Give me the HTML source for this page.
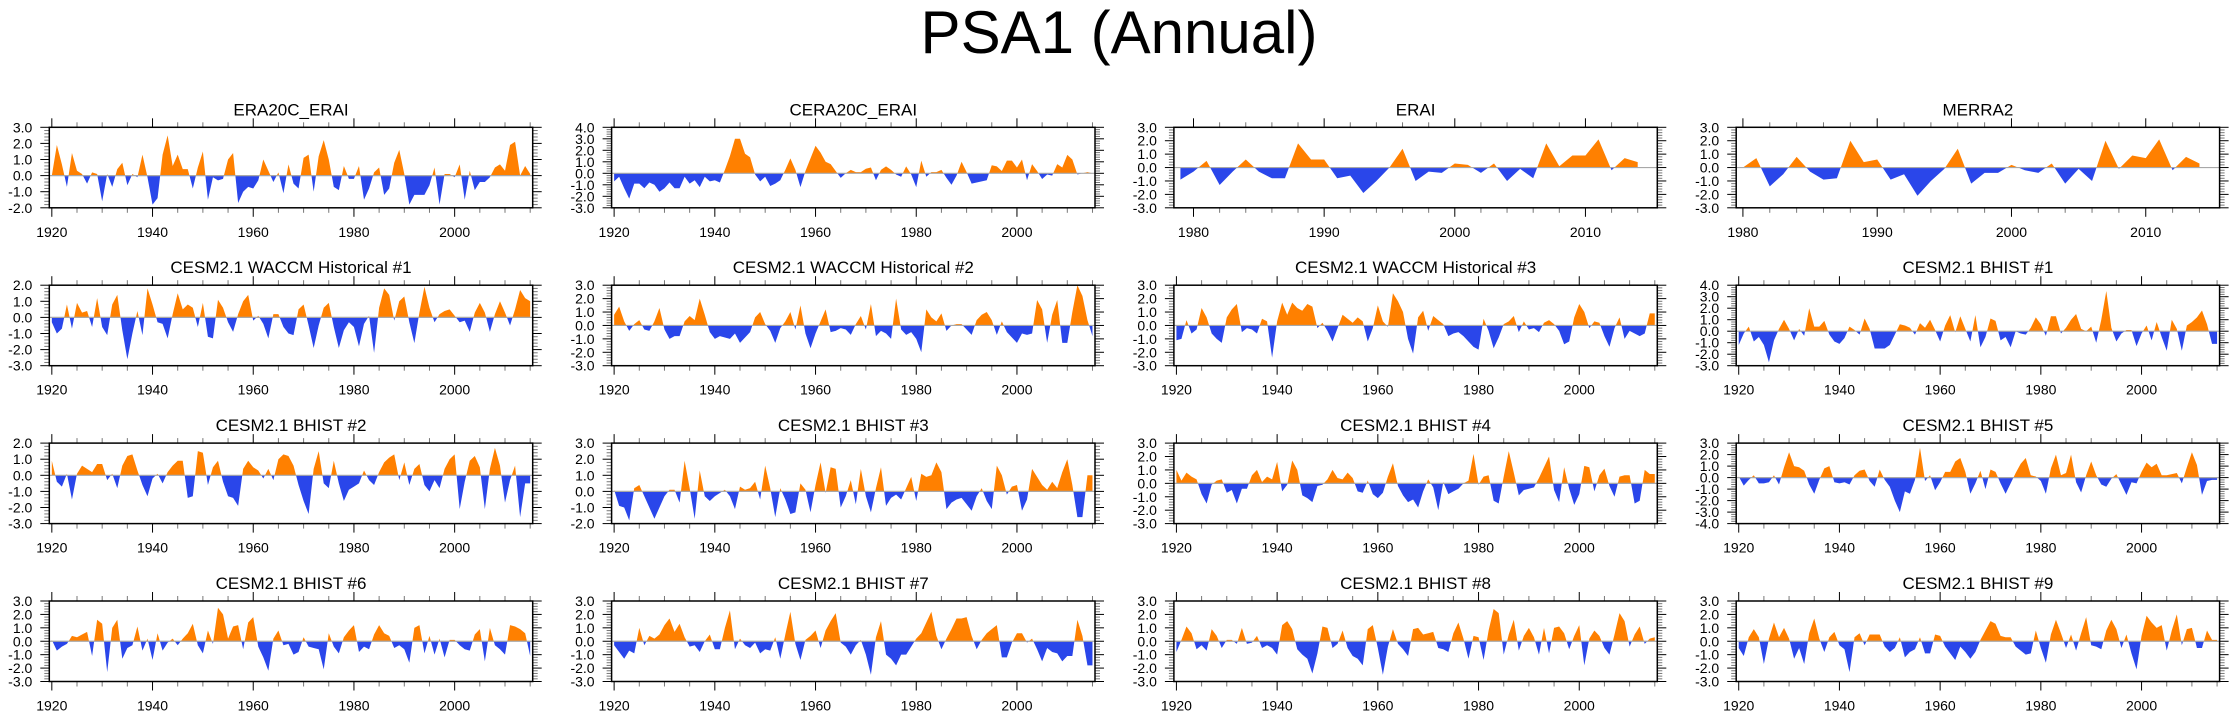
<!DOCTYPE html>
<html><head><meta charset="utf-8"><style>
html,body{margin:0;padding:0;background:#fff}
svg{display:block}
text{font-family:"Liberation Sans",sans-serif;fill:#000}
</style></head><body>
<svg id="chart" width="2238" height="719" viewBox="0 0 2238 719" xmlns="http://www.w3.org/2000/svg">
<text x="1119" y="53" font-size="60" text-anchor="middle">PSA1 (Annual)</text>
</svg>
<script>
const panelTitles = ["ERA20C_ERAI","CERA20C_ERAI","ERAI","MERRA2",
"CESM2.1 WACCM Historical #1","CESM2.1 WACCM Historical #2","CESM2.1 WACCM Historical #3","CESM2.1 BHIST #1",
"CESM2.1 BHIST #2","CESM2.1 BHIST #3","CESM2.1 BHIST #4","CESM2.1 BHIST #5",
"CESM2.1 BHIST #6","CESM2.1 BHIST #7","CESM2.1 BHIST #8","CESM2.1 BHIST #9"];
const startYears = [1920,1920,1979,1980,1920,1920,1920,1920,1920,1920,1920,1920,1920,1920,1920,1920];
const yMins = [-2,-3,-3,-3,-3,-3,-3,-3,-3,-2,-3,-4,-3,-3,-3,-3];
const yMaxs = [3,4,3,3,2,3,3,4,2,3,3,3,3,3,3,3];
const s1 = [0.0,1.9,0.7,-0.7,1.4,0.3,0.1,-0.5,0.2,0.1,-1.6,0.1,-0.7,0.4,0.8,-0.6,0.1,-0.1,1.3,-0.1,-1.8,-1.4,1.3,2.5,0.6,1.3,0.4,0.4,-0.8,0.5,1.5,-1.5,-0.1,-0.3,-0.2,1.0,1.4,-1.7,-1.0,-0.7,-0.8,-0.3,1.0,0.3,-0.4,0.2,-1.1,0.7,-0.5,-0.8,1.1,1.3,-1.0,1.2,2.2,1.0,-0.7,-0.9,0.6,-0.2,-0.2,0.6,-1.5,-0.8,0.2,0.5,-1.2,-0.8,0.8,1.6,0.1,-1.8,-1.2,-1.2,-1.2,-0.6,0.5,-1.8,0.1,0.1,-0.1,0.7,-1.5,0.3,-0.9,-0.4,-0.4,-0.1,0.5,0.7,0.3,1.9,2.1,0.0,0.6,0.1];
const s2 = [-0.7,-0.3,-1.3,-2.2,-0.9,-0.9,-1.3,-0.8,-1.0,-1.6,-1.3,-0.8,-1.3,-1.3,-0.3,-0.9,-0.6,-1.2,-0.3,-0.7,-0.6,-0.8,0.3,1.5,3.0,3.0,1.7,1.4,-0.1,-0.7,-0.3,-1.1,-0.9,-0.6,0.3,1.3,0.3,-1.2,0.2,1.3,2.4,1.8,1.0,0.8,0.2,-0.4,0.0,0.3,0.1,0.1,0.4,0.5,-0.6,0.3,0.6,0.3,-0.1,-0.3,0.6,-0.1,-1.2,1.1,-0.3,0.1,0.1,0.3,-0.4,-1.0,-0.2,1.0,0.1,-0.9,-0.8,-0.7,-0.6,0.7,0.6,0.2,1.1,1.1,0.5,1.2,-0.6,0.8,0.2,-0.5,-0.1,-0.2,0.8,0.5,1.6,1.2,-0.1,0.0,0.1,0.0];
const s3 = [-0.9,-0.3,0.5,-1.3,-0.3,0.6,-0.3,-0.8,-0.8,1.8,0.6,0.6,-0.8,-0.6,-1.9,-1.0,0.0,1.4,-1.0,-0.3,-0.4,0.3,0.2,-0.4,0.3,-1.0,-0.1,-0.8,1.8,0.1,0.9,0.9,2.1,-0.2,0.7,0.4];
const s4 = [0.0,0.7,-1.4,-0.5,0.8,-0.3,-0.9,-0.8,2.0,0.4,0.6,-0.9,-0.5,-2.1,-1.0,-0.1,1.4,-1.2,-0.4,-0.4,0.2,-0.2,-0.4,0.3,-1.2,-0.1,-1.0,2.0,-0.1,0.9,0.7,2.1,-0.2,0.8,0.3];
const s5 = [-0.3,-1.0,-0.7,0.8,-0.7,0.9,0.3,0.4,-0.6,1.2,-0.6,-1.1,0.8,1.4,-0.8,-2.6,-1.0,0.4,-1.1,1.8,0.8,-0.3,-0.4,-1.3,0.2,1.5,0.5,0.8,0.6,-0.6,0.9,-1.2,-1.3,1.1,0.6,-0.3,-0.9,0.2,1.0,1.4,-0.2,0.1,-0.4,-1.3,0.2,0.2,-0.6,-1.0,-1.1,0.5,0.8,-0.5,-1.9,-0.5,0.6,0.9,-0.6,-1.9,-0.8,-0.3,-0.6,-1.8,-0.4,0.1,-2.2,0.6,1.8,1.4,-0.2,1.0,1.3,-0.3,-1.6,0.3,1.9,0.6,-0.3,0.2,0.4,0.5,0.1,-0.3,-0.2,-0.9,0.3,0.9,0.3,-0.9,0.2,1.0,0.3,-0.5,0.5,1.7,1.2,1.0];
const s6 = [0.8,1.4,0.3,-0.4,0.1,0.4,-0.3,-0.4,0.3,1.3,-0.3,-1.0,-0.8,-0.8,0.3,0.7,0.4,2.0,0.8,-0.5,-1.0,-0.8,-0.9,-1.0,-0.6,-1.3,-0.9,-0.5,0.6,1.0,0.1,-0.4,-1.3,-0.2,0.3,1.0,-0.3,1.5,-0.6,-1.7,-0.6,0.3,1.2,-0.5,-0.4,-0.2,-0.3,-0.7,0.1,0.7,-0.3,1.6,-0.8,-0.4,-0.6,-1.0,2.0,-0.3,-0.7,-0.5,-1.0,-2.0,1.2,0.6,0.3,0.9,-0.4,0.0,0.1,0.1,-0.3,-0.7,0.4,0.8,1.0,0.4,-0.7,0.3,-0.5,-0.9,-1.3,-0.6,-0.7,-0.6,1.9,1.2,-1.3,0.8,1.9,-1.3,-1.3,1.0,3.0,2.2,0.4,-0.8];
const s7 = [-1.1,-1.0,0.4,-0.6,-0.3,1.3,0.6,-0.6,-1.0,-1.3,0.6,1.2,1.6,-0.5,-0.2,-0.3,-0.6,0.5,0.3,-2.4,0.3,1.7,0.8,1.7,1.3,1.1,1.6,1.4,-0.2,0.2,-0.4,-1.2,-0.2,0.8,0.5,0.2,0.6,0.3,-1.2,-0.2,1.5,0.3,-0.1,2.4,1.8,1.0,-1.0,-2.1,0.6,1.1,-0.4,0.7,0.4,0.1,-0.8,-0.6,-0.5,-0.8,-1.2,-1.6,-1.8,0.5,-0.4,-1.7,-0.9,0.1,0.3,0.7,-0.5,0.3,-0.3,-0.2,-0.5,0.2,0.4,0.1,-0.4,-1.4,-1.2,0.6,1.6,1.0,-0.2,0.3,0.2,-0.8,-1.6,-0.2,0.6,-1.0,-0.4,-0.6,-0.8,-0.6,0.9,0.9];
const s8 = [-1.2,-0.2,0.4,-0.9,-0.5,-1.2,-2.7,-0.8,0.2,1.0,0.2,-0.8,0.2,-0.4,2.0,0.4,0.4,0.9,-0.3,-0.9,-1.1,-0.6,0.4,0.1,-0.3,1.1,0.2,-1.5,-1.5,-1.5,-1.2,-0.3,0.6,0.5,0.3,-0.3,0.7,0.3,1.0,0.1,-0.9,0.5,1.4,-0.1,1.3,0.2,-0.9,1.4,-1.4,-0.5,1.1,0.9,-0.8,-0.5,-1.4,0.0,-0.2,-0.3,0.3,1.2,0.6,-0.4,1.3,1.3,-0.2,0.3,1.0,1.5,0.2,0.0,0.4,-1.0,1.0,3.5,0.3,-0.9,-0.2,0.1,0.1,-1.3,-0.2,0.5,-0.8,0.8,-0.5,-1.7,1.0,0.2,-1.7,0.5,0.8,1.2,1.8,0.6,-1.1,-1.1];
const s9 = [0.9,-0.4,-0.7,0.1,-1.5,0.1,0.6,0.4,0.2,0.7,0.7,-0.3,0.1,-0.8,0.6,1.2,1.3,0.3,-0.6,-1.3,-0.2,0.1,-0.5,0.2,0.6,0.9,0.9,-1.4,-1.3,1.5,1.4,-0.6,0.5,0.9,-0.4,-1.3,-1.4,-1.9,0.4,0.9,0.5,0.3,-0.2,0.4,-0.3,1.0,1.3,1.2,0.6,-0.6,-1.6,-2.4,0.4,1.5,-0.5,-0.8,0.9,-0.5,-1.6,-0.9,-0.7,-0.5,0.3,-0.3,-0.6,0.2,0.8,1.1,1.3,-0.3,0.8,-0.6,0.4,0.7,-0.6,-1.0,-0.3,-0.8,0.4,1.0,1.3,-2.1,-0.4,0.9,1.2,0.5,-2.1,0.4,1.7,0.6,-1.7,-0.3,0.6,-2.6,-0.5,-0.5];
const s10 = [0.1,-0.9,-1.0,-1.8,0.2,0.4,-0.3,-1.0,-1.7,-1.0,-0.3,0.1,0.1,-0.7,1.9,0.2,-1.7,1.3,-0.3,-0.6,-0.3,-0.1,0.1,-0.3,-1.1,0.3,0.1,0.2,0.6,-0.5,1.6,0.2,-1.6,0.2,-0.5,-1.4,-1.3,0.5,0.1,-1.3,0.4,1.8,-0.1,1.5,1.4,-1.0,-0.3,0.7,-0.8,1.4,-0.3,-1.3,0.2,1.5,-0.9,-0.4,-0.2,-0.5,0.2,0.9,-0.6,1.1,0.9,1.0,1.8,1.2,-1.1,-0.7,-0.5,-0.4,-0.8,-1.2,-0.3,0.2,-0.6,-1.1,1.6,1.0,-0.2,0.3,0.4,-1.2,-0.5,1.4,0.9,0.4,0.1,0.6,0.2,1.2,2.0,0.4,-1.6,-1.6,1.0,1.0];
const s11 = [1.0,0.2,0.8,0.5,0.3,-0.8,-1.5,-0.1,0.2,0.3,-0.7,-0.5,-1.5,-0.4,-0.4,0.6,1.0,0.1,0.5,0.3,1.6,-0.6,-0.1,1.7,1.0,-0.9,-1.1,-1.4,-0.2,-0.1,0.3,1.0,0.4,0.3,0.8,0.4,-0.6,-0.7,0.2,-0.8,-1.1,-0.7,0.5,1.5,-0.2,-0.9,-1.4,-1.2,-1.8,-0.6,0.3,-0.3,-2.0,0.1,-0.8,-0.6,-0.4,0.0,0.2,2.2,-0.1,0.5,0.6,-1.3,-1.5,0.5,2.4,0.8,-0.9,-0.5,-0.4,-0.3,0.4,1.2,2.0,-0.5,-1.4,1.2,-0.4,-1.6,-0.8,1.3,1.2,-0.6,0.6,1.1,-0.2,-1.0,0.5,0.6,0.6,-1.5,-1.3,1.0,0.7,0.7];
const s12 = [0.1,-0.7,-0.2,0.2,-0.5,-0.5,-0.4,0.2,-0.6,0.9,2.2,1.0,0.9,0.6,-0.6,-1.4,-0.2,0.8,1.0,-0.4,-0.5,-0.4,-0.6,0.2,0.6,0.7,-0.3,-0.8,0.7,-0.2,-0.8,-2.0,-3.0,-1.2,-1.4,-0.2,2.6,-0.3,0.2,-1.1,-0.4,0.5,0.5,1.4,1.7,0.5,-1.4,-0.5,0.6,-1.0,0.7,0.5,-0.5,-1.4,-0.5,0.4,1.2,1.7,0.2,0.1,-0.3,-1.4,0.8,2.0,0.2,0.4,2.0,-0.4,-1.3,0.2,1.4,0.2,-0.6,-0.8,-0.1,0.3,-0.6,-1.5,-0.4,-0.5,0.5,1.3,0.9,1.2,0.2,0.2,0.3,0.4,-0.5,0.9,2.2,1.1,-1.5,-0.3,-0.2,-0.2];
const s13 = [0.1,-0.7,-0.4,-0.2,0.4,0.3,0.5,0.7,-1.1,1.6,1.3,-2.3,1.0,1.6,-1.3,-0.5,-0.3,1.1,-0.7,0.2,-1.4,0.6,-0.7,-0.1,0.2,-0.3,0.2,0.6,1.3,-0.3,-0.9,0.8,-0.2,2.5,2.0,0.2,1.1,1.2,-0.6,1.4,1.8,-0.4,-1.2,-2.2,0.2,0.8,-0.3,-0.2,-1.0,-0.8,0.3,-0.4,-0.5,-0.6,-2.1,0.6,-0.4,-0.9,0.3,0.8,1.2,-0.8,-0.4,-0.6,0.5,1.2,0.6,0.4,-0.5,-0.3,-0.6,-1.6,1.0,1.2,-0.9,0.4,-1.0,0.2,-1.2,0.1,0.1,-0.3,-0.6,-0.7,0.5,0.9,-1.5,1.0,-0.3,-0.6,-1.0,1.2,1.1,0.9,0.6,-1.1];
const s14 = [-0.3,-0.8,-1.3,-0.7,-0.9,1.0,-0.3,0.4,0.2,0.5,1.2,1.7,0.7,1.3,0.3,-0.4,-0.3,-0.8,0.0,0.5,-0.6,-0.6,1.0,2.3,-0.6,0.2,-0.3,-0.5,-0.1,-0.9,-0.6,-0.7,0.3,-1.3,0.5,2.2,-0.2,-1.4,0.1,0.4,0.8,-0.5,0.8,1.5,2.1,-0.1,-0.4,-1.0,-0.3,0.1,-1.0,-2.5,0.3,1.5,-1.0,-1.3,-1.8,-1.0,-1.0,-0.4,0.2,0.6,1.4,2.2,0.4,-0.6,0.2,0.9,1.7,1.7,1.8,0.4,-0.6,0.1,0.6,0.9,1.2,-1.2,-1.2,-0.1,0.6,0.6,-0.1,0.2,-0.6,-1.5,-0.5,-0.8,-0.9,-1.5,-1.1,-1.1,1.6,0.4,-1.8,-1.8];
const s15 = [-0.8,0.1,1.1,0.6,-0.6,-0.3,-0.7,0.9,0.4,-0.5,0.1,0.1,-0.2,1.0,-0.2,-0.1,0.4,-0.5,-0.3,-0.5,-1.0,1.2,1.5,0.9,-0.6,-1.0,-1.3,-2.4,-0.9,1.1,1.0,-0.5,-0.2,0.8,-0.5,-1.1,-1.3,-1.8,0.9,1.2,-0.5,-2.5,-0.4,0.9,-0.2,-0.6,-1.1,0.9,1.0,0.5,0.6,0.7,-0.5,-0.6,-0.8,0.6,1.4,0.2,-1.3,0.4,0.3,-1.4,0.8,2.4,2.1,-1.0,0.5,1.6,-0.7,0.4,1.0,0.3,-1.0,1.0,-0.9,1.0,1.1,0.6,-0.6,0.4,1.2,-1.8,0.2,0.8,0.4,-0.5,-1.0,0.5,2.1,1.5,-0.4,0.5,1.1,-0.2,0.2,0.3];
const s16 = [-0.5,-1.1,0.3,0.9,0.3,-1.7,0.2,1.4,0.3,1.0,0.2,-1.3,-0.5,-1.7,0.6,1.7,0.2,-0.8,0.3,0.7,-0.3,-0.6,-2.3,0.3,0.6,-0.3,0.5,0.5,0.5,-0.4,-0.8,-0.5,0.3,-1.2,-0.8,-0.6,0.3,-0.9,-0.9,0.5,0.4,-0.4,-0.9,-1.4,-0.4,-0.8,-1.3,-0.8,0.1,0.8,1.5,1.3,0.4,0.3,0.3,-0.4,-0.7,-1.0,-0.9,0.8,-0.5,-1.6,0.5,1.6,0.6,-0.5,0.5,-0.7,0.6,1.8,-0.3,-0.4,-0.6,0.8,1.6,0.9,-0.5,0.5,-0.9,-2.1,0.4,1.9,1.4,1.0,1.2,-0.7,0.8,2.0,-0.3,0.9,1.0,-0.5,-0.5,0.8,0.1,0.1];
const seriesList = [s1,s2,s3,s4,s5,s6,s7,s8,s9,s10,s11,s12,s13,s14,s15,s16];

const NS = "http://www.w3.org/2000/svg";
const svg = document.getElementById('chart');
function mk(tag, attrs, parent){
  const e = document.createElementNS(NS, tag);
  for (const k in attrs) e.setAttribute(k, attrs[k]);
  (parent||svg).appendChild(e);
  return e;
}
const BX0 = 49.3, BW = 483.4, CSTEP = 562.3, BY0 = 127.3, BH = 80.5, RSTEP = 157.9;
const slugs = ["era20c-erai","cera20c-erai","erai","merra2","waccm-hist-1","waccm-hist-2","waccm-hist-3","bhist-1","bhist-2","bhist-3","bhist-4","bhist-5","bhist-6","bhist-7","bhist-8","bhist-9"];

seriesList.forEach((vals, i) => {
  const col = i % 4, row = Math.floor(i / 4);
  const L = BX0 + col*CSTEP, T = BY0 + row*RSTEP, R = L + BW, B = T + BH;
  const short = startYears[i] > 1950;
  const xMin = short ? startYears[i] - (i===2 ? 0.5 : 0.5) : 1919.5;
  const xMaxV = 2015.5;
  const xLo = (i===2) ? 1978.5 : xMin;
  const xs = y => L + (y - xLo) / (xMaxV - xLo) * BW;
  const ys = v => B - (v - yMins[i]) / (yMaxs[i] - yMins[i]) * BH;

  const g = mk('g', {});
  
  

  const t = mk('text', {x: L + BW/2, y: T - 12, 'font-size': 17, 'text-anchor': 'middle'}, g);
  t.textContent = panelTitles[i];
  
  

  // clip paths
  const y0 = ys(0);
  const cpA = mk('clipPath', {id: 'ca' + i}, g);
  mk('rect', {x: L, y: T, width: BW, height: y0 - T}, cpA);
  const cpB = mk('clipPath', {id: 'cb' + i}, g);
  mk('rect', {x: L, y: y0, width: BW, height: B - y0}, cpB);

  let d = 'M' + xs(startYears[i]).toFixed(2) + ',' + y0.toFixed(2);
  vals.forEach((v, k) => { d += ' L' + xs(startYears[i] + k).toFixed(2) + ',' + ys(v).toFixed(2); });
  d += ' L' + xs(startYears[i] + vals.length - 1).toFixed(2) + ',' + y0.toFixed(2) + ' Z';
  const pa = mk('path', {d: d, fill: '#ff8000', 'clip-path': 'url(#ca' + i + ')'}, g);
  
  
  const pb = mk('path', {d: d, fill: '#2a46ea', 'clip-path': 'url(#cb' + i + ')'}, g);
  
  

  const zl = mk('line', {x1: L, x2: R, y1: y0, y2: y0, stroke: '#a8a8a8', 'stroke-width': 1.2}, g);
  
  

  // y ticks
  for (let v = yMins[i]; v <= yMaxs[i] + 1e-6; v += 0.2) {
    const vv = Math.round(v*10)/10;
    const major = Math.abs(vv - Math.round(vv)) < 1e-6;
    const yy = ys(vv), len = major ? 9 : 5;
    mk('line', {x1: L - len, x2: L, y1: yy, y2: yy, stroke: major ? '#000' : '#777', 'stroke-width': 1}, g);
    mk('line', {x1: R, x2: R + len, y1: yy, y2: yy, stroke: major ? '#000' : '#777', 'stroke-width': 1}, g);
    if (major) {
      const lab = mk('text', {x: L - 17, y: yy + 5, 'font-size': 14, 'text-anchor': 'end'}, g);
      lab.textContent = vv.toFixed(1);
      
      
    }
  }
  // x ticks
  const majStep = short ? 10 : 20, minStep = short ? 2 : 5;
  for (let yr = Math.ceil(xLo); yr <= xMaxV; yr++) {
    if (yr % minStep !== 0) continue;
    const major = yr % majStep === 0;
    const xx = xs(yr), len = major ? 9 : 5;
    mk('line', {x1: xx, x2: xx, y1: T - len, y2: T, stroke: major ? '#000' : '#777', 'stroke-width': 1}, g);
    mk('line', {x1: xx, x2: xx, y1: B, y2: B + len, stroke: major ? '#000' : '#777', 'stroke-width': 1}, g);
    if (major) {
      const lab = mk('text', {x: xx, y: B + 29, 'font-size': 14, 'text-anchor': 'middle'}, g);
      lab.textContent = String(yr);
      
      
    }
  }
  const box = mk('rect', {x: L, y: T, width: BW, height: BH, fill: 'none', stroke: '#000', 'stroke-width': 1.5}, g);
  
  
});
</script>
</body></html>
